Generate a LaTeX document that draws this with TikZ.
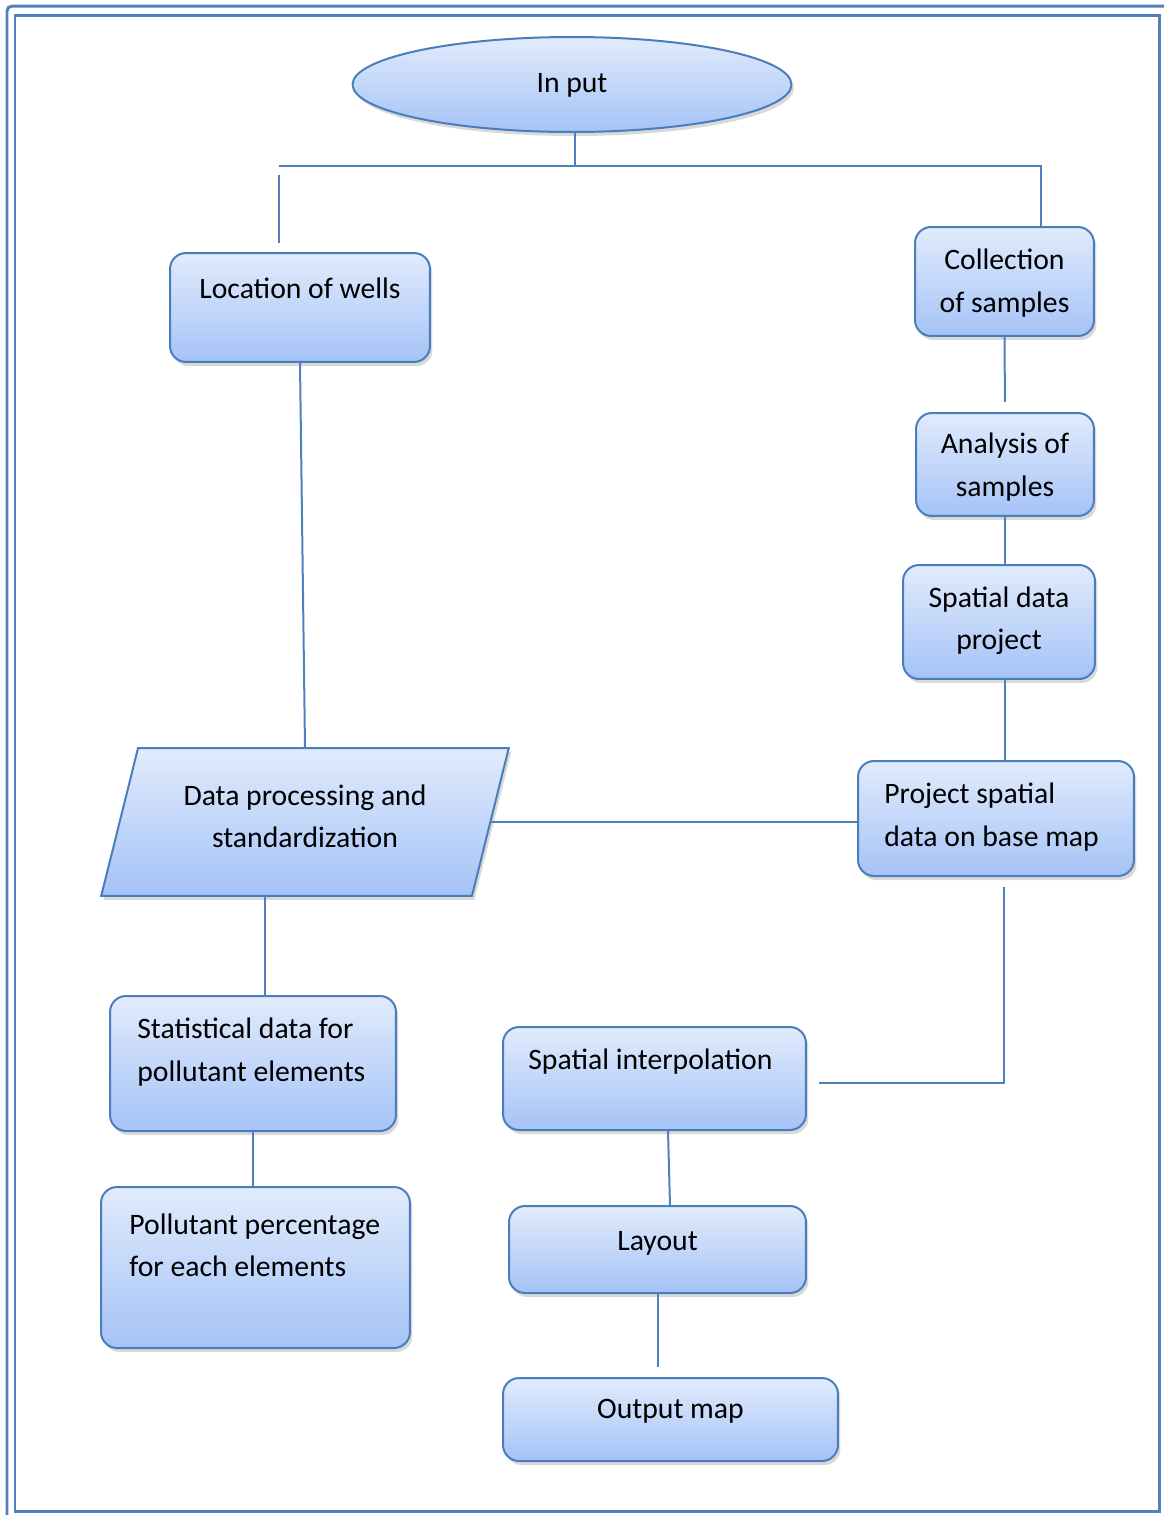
\documentclass[tikz,border=0pt]{standalone}
\usepackage{fontspec}
\setmainfont{Carlito}
\usetikzlibrary{shapes.geometric, shadows, positioning}

\definecolor{frameblue}{HTML}{4F81BD}
\definecolor{edgeblue}{HTML}{4A7EBB}
\definecolor{filltop}{HTML}{E1EBFC}
\definecolor{fillbot}{HTML}{A5C3F7}

\tikzset{
  shadebox/.style={draw=edgeblue, line width=0.04cm, top color=filltop, bottom color=fillbot,
    drop shadow={opacity=0.3, shadow xshift=0.05cm, shadow yshift=-0.08cm}, inner sep=0pt},
  block/.style={shadebox, rectangle, rounded corners=0.32cm},
  txt/.style={inner sep=0pt, font=\fontsize{16.9}{24}\selectfont, align=center},
  link/.style={draw=frameblue, line width=0.04cm},
}

\begin{document}
\begin{tikzpicture}[x=0.02cm, y=-0.02cm]
\useasboundingbox (0,0) rectangle (1164,1515);
% page frame
\draw[frameblue, line width=0.06cm] (15,15) rectangle (1159,1511);
\draw[frameblue, line width=0.06cm, rounded corners=0.1cm] (7,1515) -- (7,6) -- (1164,6);

% shapes
\node[shadebox, ellipse, minimum width=8.78cm, minimum height=1.9cm] (inp) at (572,84.5) {};
\node[block, minimum width=5.2cm, minimum height=2.18cm] (loc) at (300,307.5) {};
\node[block, minimum width=3.58cm, minimum height=2.18cm] (coll) at (1004.5,281.5) {};
\node[block, minimum width=3.56cm, minimum height=2.06cm] (anal) at (1005,464.5) {};
\node[block, minimum width=3.84cm, minimum height=2.28cm] (sdp) at (999,622) {};
\node[block, minimum width=5.52cm, minimum height=2.3cm] (proj) at (996,818.5) {};
\node[shadebox, trapezium, trapezium left angle=83.7, trapezium right angle=96.3, inner sep=4pt,
  trapezium stretches=true, minimum width=8.16cm, minimum height=2.96cm] (proc) at (305,822) {};
\node[block, minimum width=5.72cm, minimum height=2.7cm] (stat) at (253,1063.5) {};
\node[block, minimum width=6.18cm, minimum height=3.22cm] (poll) at (255.5,1267.5) {};
\node[block, minimum width=6.06cm, minimum height=2.06cm] (interp) at (654.5,1078.5) {};
\node[block, minimum width=5.94cm, minimum height=1.74cm] (lay) at (657.5,1249.5) {};
\node[block, minimum width=6.7cm, minimum height=1.66cm] (out) at (670.5,1419.5) {};

% texts
\node[txt] (inpT) at (572,85.5) {In put};
\node[txt] (locT) at (300,288) {Location of wells};
\node[txt] (collT) at (1004.5,283) {Collection\\of samples};
\node[txt] (analT) at (1005,467) {Analysis of\\samples};
\node[txt] (sdpT) at (999,621) {Spatial data\\project};
\node[txt, anchor=west, align=left] (projT) at (884,817) {Project spatial\\data on base map};
\node[txt] (procT) at (305,816) {Data processing and\\standardization};
\node[txt, anchor=west, align=left] (statT) at (137,1052) {Statistical data for\\pollutant elements};
\node[txt, anchor=west, align=left] (pollT) at (129,1245) {Pollutant percentage\\for each elements};
\node[txt, anchor=west] (interpT) at (528,1062) {Spatial interpolation};
\node[txt] (layT) at (657.5,1243) {Layout};
\node[txt] (outT) at (670.5,1411) {Output map};

% connectors
\coordinate (splitL) at (279,166);
\coordinate (splitR) at (1041,166);
\coordinate (turn) at (1004,1083);
\draw[link] ([xshift=0.06cm]inp.south) -- ([xshift=0.06cm]inp.south |- splitL);
\draw[link] (splitL) -- (splitR) -- (splitR |- coll.north);
\draw[link, shorten <=0.18cm, shorten >=0.18cm] (splitL) -- (splitL |- loc.north);
\draw[link, shorten >=0.2cm] (coll.south) -- (anal.north);
\draw[link] (anal.south) -- (anal.south |- sdp.north);
\draw[link] (anal.south |- sdp.south) -- (anal.south |- proj.north);
\draw[link] (loc.south) -- (proc.north);
\draw[link] (proc.east) -- (proc.east -| proj.west);
\draw[link] ([xshift=-0.8cm]proc.south) -- ([xshift=-0.8cm]proc.south |- stat.north);
\draw[link] (stat.south) -- (stat.south |- poll.north);
\draw[link, shorten <=0.2cm, shorten >=0.24cm] (turn |- proj.south) -- (turn) -- (turn -| interp.east);
\draw[link] ([xshift=0.27cm]interp.south) -- ([xshift=0.25cm]lay.north);
\draw[link, shorten >=0.2cm] (lay.south) -- (lay.south |- out.north);
\end{tikzpicture}
\end{document}
